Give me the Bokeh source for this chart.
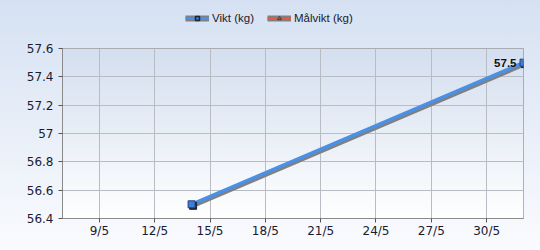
from datetime import datetime
import numpy as np
from bokeh.plotting import figure
from bokeh.layouts import column
from bokeh.models import (Range1d, FixedTicker, CustomJSTickFormatter, Legend, LegendItem,
                          ColumnDataSource)
from bokeh.embed import file_html
from bokeh.resources import INLINE
from bokeh.core.properties import value

# ---- data ----
dates = ["2024-05-14", "2024-06-01"]
vikt = [56.5, 57.5]
point_labels = ["", "57.5"]
series_names = ["Vikt (kg)", "Målvikt (kg)"]
malvikt_dates = []
malvikt = []
x_tick_dates = ["2024-05-09", "2024-05-12", "2024-05-15", "2024-05-18",
                "2024-05-21", "2024-05-24", "2024-05-27", "2024-05-30"]
y_ticks = [56.4, 56.6, 56.8, 57.0, 57.2, 57.4, 57.6]
y_tick_labels = ["56.4", "56.6", "56.8", "57", "57.2", "57.4", "57.6"]
x_start, x_end = "2024-05-07", "2024-06-01"
y_start, y_end = 56.4, 57.6

def ms(s):
    return (datetime.fromisoformat(s) - datetime(1970, 1, 1)).total_seconds() * 1000.0

xs = [ms(d) for d in dates]
x0, x1 = ms(x_start), ms(x_end)

W, H = 540, 250
LH = 36
BL, BR, BT, BB = 62, 17, 48 - LH, 32
H2 = H - LH
fw, fh = W - BL - BR, H2 - BT - BB
px_x = (x1 - x0) / fw
px_y = (y_end - y_start) / fh

FONT = "DejaVu Sans"
FONT2 = "Liberation Sans"
TXT = "#1a1a30"
BLUE, BLUE_MK, RED, SHADOW = "#4a90e6", "#3d7fd6", "#e05a4a", "#808080"

# ---------- legend strip ----------
lg = figure(width=W, height=LH, output_backend="svg", toolbar_location=None,
            x_range=Range1d(0, 1), y_range=Range1d(0, 1),
            x_axis_location=None, y_axis_location=None,
            min_border=0, border_fill_color=None, background_fill_color=None,
            outline_line_color=None)
lg.grid.visible = False
dummy = ColumnDataSource(dict(x=[np.nan], y=[np.nan]))
r1 = [lg.line("x", "y", source=dummy, line_color=SHADOW, line_width=6),
      lg.line("x", "y", source=dummy, line_color=BLUE, line_width=3),
      lg.scatter("x", "y", source=dummy, marker="square", size=7, fill_color=BLUE_MK,
                 line_color="#1c2438", line_width=1.5)]
r2 = [lg.line("x", "y", source=dummy, line_color=SHADOW, line_width=6),
      lg.line("x", "y", source=dummy, line_color=RED, line_width=3),
      lg.scatter("x", "y", source=dummy, marker="triangle", size=6, fill_color="#8a6a6a",
                 line_color="#444444")]
legend = Legend(items=[LegendItem(label=series_names[0], renderers=r1),
                       LegendItem(label=series_names[1], renderers=r2)],
                orientation="horizontal", location=(123, 8),
                border_line_alpha=0, background_fill_alpha=0,
                label_text_font=FONT2, label_text_font_size="11.5px",
                label_text_color=TXT,
                glyph_width=24, glyph_height=10, label_standoff=3, spacing=13,
                label_height=20, padding=0, margin=0)
lg.add_layout(legend, "center")

# ---------- main chart ----------
p = figure(width=W, height=H2, output_backend="svg", toolbar_location=None,
           x_axis_type="datetime",
           x_range=Range1d(x0, x1), y_range=Range1d(y_start, y_end),
           min_border_left=BL, min_border_right=BR, min_border_top=BT, min_border_bottom=BB,
           border_fill_color=None, background_fill_color=None)

# plot-area gradient
n = 120
t = np.linspace(0, 1, n)[:, None]  # bottom -> top
top = np.array([212, 223, 239]); bot = np.array([255, 255, 255])
cols = (bot + (top - bot) * t).astype(np.uint32)
img = np.empty((n, 1), dtype=np.uint32)
view = img.view(dtype=np.uint8).reshape((n, 1, 4))
view[:, 0, 0] = cols[:, 0]; view[:, 0, 1] = cols[:, 1]; view[:, 0, 2] = cols[:, 2]; view[:, 0, 3] = 255
p.image_rgba(image=[img], x=x0, y=y_start, dw=x1 - x0, dh=y_end - y_start, level="image")

p.outline_line_color = "#9a9a9a"
p.grid.grid_line_color = "#b8bcc4"
p.grid.grid_line_alpha = 1.0

p.xaxis.ticker = FixedTicker(ticks=[ms(d) for d in x_tick_dates])
p.xaxis.formatter = CustomJSTickFormatter(
    code="const d = new Date(tick); return d.getUTCDate() + '/' + (d.getUTCMonth() + 1);")
p.yaxis.ticker = FixedTicker(ticks=y_ticks)
p.yaxis.major_label_overrides = {v: l for v, l in zip(y_ticks, y_tick_labels)}

for ax in (p.xaxis, p.yaxis):
    ax.axis_line_color = "#8a8a8a"
    ax.major_tick_line_color = "#555555"
    ax.minor_tick_line_color = None
    ax.major_tick_in = 0
    ax.major_tick_out = 4
    ax.major_label_text_font = FONT
    ax.major_label_text_font_size = "12px"
    ax.major_label_text_color = TXT
p.yaxis.major_label_standoff = 5
p.xaxis.major_label_standoff = 1

src = ColumnDataSource(dict(x=xs, y=vikt, lab=point_labels,
                            xs=[x + 1 * px_x for x in xs], ys=[y - 2 * px_y for y in vikt],
                            xm=[x + 1.5 * px_x for x in xs], ym=[y - 1.5 * px_y for y in vikt]))
p.line("xs", "ys", source=src, line_color=SHADOW, line_width=3.5)
p.line("x", "y", source=src, line_color=BLUE, line_width=3.5)
p.scatter("xm", "ym", source=src, marker="square", size=7, fill_color="#1c2438", line_color="#1c2438")
p.scatter("x", "y", source=src, marker="square", size=7, fill_color=BLUE_MK, line_color="#23407a", line_width=1)
p.text("x", "y", text="lab", source=src, x_offset=-7, y_offset=0, text_align="right",
       text_baseline="middle", text_font=value(FONT2), text_font_size="11.5px",
       text_font_style="bold", text_color="#111111")

src2 = ColumnDataSource(dict(x=malvikt_dates, y=malvikt))
p.line("x", "y", source=src2, line_color=SHADOW, line_width=3.5)
p.line("x", "y", source=src2, line_color=RED, line_width=3.5)

layout = column(lg, p, spacing=0)
layout.styles = {"background": "linear-gradient(#d5e1f2, #fafbfe)"}

open("out.html", "w").write(file_html(layout, INLINE))
